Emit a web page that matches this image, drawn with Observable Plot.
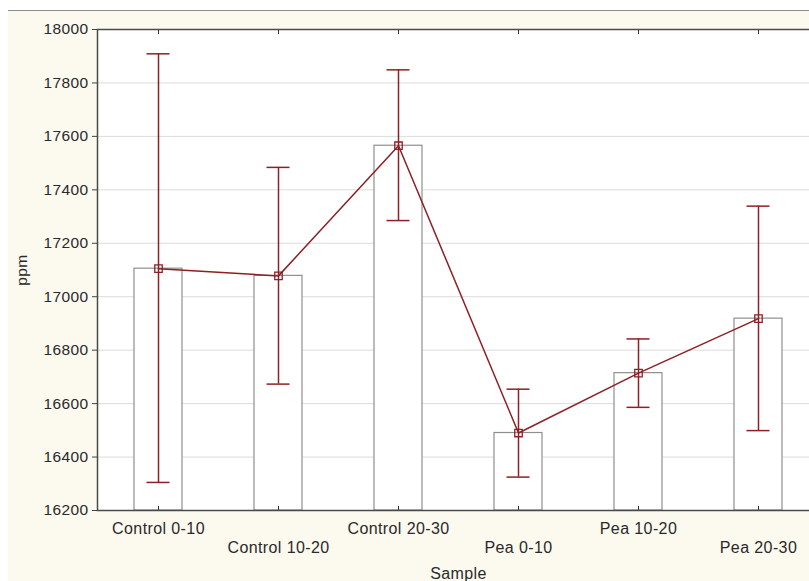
<!DOCTYPE html>
<html>
<head>
<meta charset="utf-8">
<script src="https://cdn.jsdelivr.net/npm/d3@7"></script>
<script src="https://cdn.jsdelivr.net/npm/@observablehq/plot@0.6"></script>
<style>
  html, body { margin: 0; padding: 0; background: #ffffff; overflow: hidden; width: 809px; height: 581px; }
  #bg { position: absolute; left: 8px; top: 10px; right: 0; bottom: 0; background: #fcf9ef; border-top: 1.5px solid #8c8c8c; }
  #chart { position: absolute; left: 0; top: 0; }
  .fig text { letter-spacing: 0.4px; }
</style>
</head>
<body>
<div id="bg"></div>
<div id="chart"></div>
<script>
const samples = ["Control 0-10", "Control 10-20", "Control 20-30", "Pea 0-10", "Pea 10-20", "Pea 20-30"];
const means = [17105, 17078, 17565, 16490, 16714, 16918];
const lower = [16305, 16673, 17285, 16325, 16586, 16499];
const upper = [17909, 17484, 17849, 16654, 16842, 17339];
const yTicks = [16200, 16400, 16600, 16800, 17000, 17200, 17400, 17600, 17800, 18000];
const yBase = 16200;

const data = samples.map((s, i) => ({sample: s, mean: means[i], lo: lower[i], hi: upper[i], base: yBase}));
const red = "#8e1f24";
const font = "'Liberation Sans', Arial, sans-serif";

const chart = Plot.plot({
  width: 809,
  height: 581,
  marginLeft: 97,
  marginRight: -10,
  marginTop: 29,
  marginBottom: 71,
  className: "fig",
  style: {background: "transparent", fontFamily: font, color: "#2a2a2a"},
  x: {type: "band", domain: samples, paddingInner: 0.6, paddingOuter: 0.3},
  y: {domain: [16200, 18000]},
  marks: [
    Plot.frame({fill: "white"}),
    Plot.gridY(yTicks.slice(1, -1), {stroke: "#dcdcdc", strokeOpacity: 1, strokeWidth: 1}),
    Plot.barY(data, {x: "sample", y1: "base", y2: "mean", fill: "white", stroke: "#8f8f8f", strokeWidth: 1.2}),
    Plot.line(data, {x: "sample", y: "mean", stroke: red, strokeWidth: 1.5}),
    Plot.ruleX(data, {x: "sample", y1: "lo", y2: "hi", stroke: red, strokeWidth: 1.5}),
    Plot.tickY(data, {x: "sample", y: "lo", stroke: red, strokeWidth: 1.5, inset: 12.5}),
    Plot.tickY(data, {x: "sample", y: "hi", stroke: red, strokeWidth: 1.5, inset: 12.5}),
    Plot.dot(data, {x: "sample", y: "mean", symbol: "square", r: 4.2, stroke: red, strokeWidth: 1.3, fill: "none"}),
    Plot.frame({stroke: "#4a4a4a", strokeWidth: 1.5}),
    Plot.axisY({ticks: yTicks, tickFormat: d => String(d), tickSize: 5, tickPadding: 4, fontSize: 15.5, stroke: "#444",
      label: "ppm", labelAnchor: "center", labelOffset: 82, labelArrow: "none"}),
    Plot.axisX({anchor: "top", tickSize: 4, dy: 4, stroke: "#333", tickFormat: () => "", label: null}),
    Plot.axisX({anchor: "bottom", tickSize: 4, dy: -4, stroke: "#333", tickFormat: () => "", label: null}),
    Plot.axisX({anchor: "bottom", ticks: samples.filter((d, i) => i % 2 === 0), tickSize: 0, tickPadding: 12, fontSize: 16, label: null}),
    Plot.axisX({anchor: "bottom", ticks: samples.filter((d, i) => i % 2 === 1), tickSize: 0, tickPadding: 31, fontSize: 16,
      label: "Sample", labelAnchor: "center", labelOffset: 68, labelArrow: "none"})
  ]
});
document.getElementById("chart").appendChild(chart);
</script>
</body>
</html>
